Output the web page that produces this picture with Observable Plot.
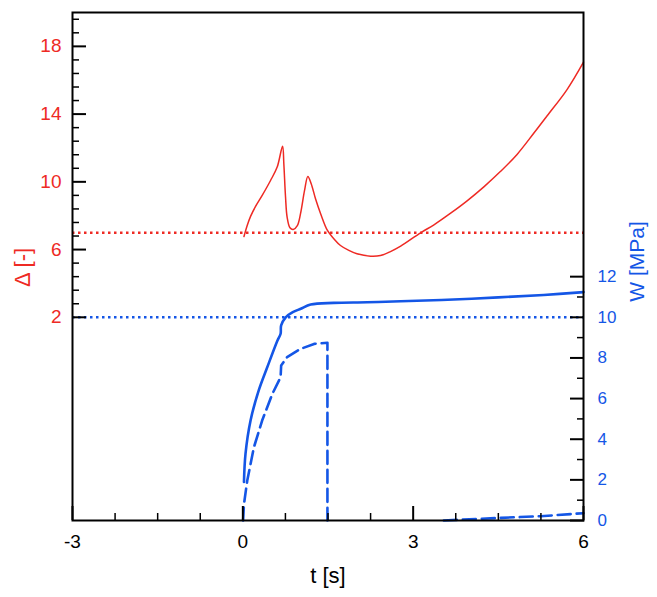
<!DOCTYPE html>
<html><head><meta charset="utf-8">
<script src="https://cdn.jsdelivr.net/npm/d3@7"></script>
<script src="https://cdn.jsdelivr.net/npm/@observablehq/plot@0.6"></script>
<style>body{margin:0;background:#fff}</style>
</head><body><div id="chart"></div>
<script>
// Δ(t) — left axis
const tDelta = [0.02,0.077,0.136,0.224,0.341,0.488,0.605,0.70,0.722,0.752,0.78,0.83,0.887,0.96,1.016,1.087,1.145,1.204,1.28,1.37,1.49,1.603,1.72,1.867,2.01,2.25,2.425,2.6,2.78,3.13,3.36,3.66,3.95,4.25,4.54,4.83,5.12,5.36,5.71,6.0];
const delta  = [6.77,7.42,7.96,8.55,9.20,10.08,10.87,12.1,11.07,9.1,7.92,7.29,7.19,7.42,8.12,9.49,10.32,9.89,9.0,8.12,7.13,6.64,6.24,5.95,5.75,5.61,5.65,5.88,6.2,6.99,7.45,8.15,8.88,9.72,10.62,11.62,12.85,13.9,15.45,17.07];
// W(t) solid — right axis [MPa]
const tWSolid = [0.02,0.047,0.136,0.28,0.43,0.61,0.665,0.675,0.755,0.88,1.02,1.195,1.6,2.19,2.78,3.5,4.5,5.3,6.0];
const wSolid  = [1.9,3.28,4.92,6.4,7.54,8.86,9.19,9.6,10.0,10.25,10.42,10.63,10.71,10.74,10.79,10.85,10.98,11.1,11.24];
// W(t) dashed — two pieces
const tWDash1 = [0.005,0.02,0.078,0.195,0.34,0.52,0.665,0.675,0.78,1.02,1.255,1.49,1.49];
const wDash1  = [0,0.8,1.97,3.6,4.92,6.23,7.05,7.63,8.04,8.45,8.69,8.75,0];
const tWDash2 = [3.54,4.54,5.24,6.0];
const wDash2  = [0,0.13,0.21,0.36];
// thresholds
const deltaThreshold = 7;
const wThreshold = 10;
// ticks
const xMajor = [-3,0,3,6];
const xMinor = d3.range(0,13).map(i => -3 + 0.75*i).filter((d,i) => i % 4 !== 0);
const deltaMajor = [2,6,10,14,18];
const deltaMinor = d3.range(0,23).map(i => 2 + 0.8*i).filter((d,i) => i % 5 !== 0);
const wMajor = [0,2,4,6,8,10,12];
const wMinor = [1,3,5,7,9,11];

// W domain [0,25] drawn on the Δ domain [-10,20]
const W2D = w => w * 1.2 - 10;
const D2W = d => (d + 10) / 1.2;

const RED = "#ee2a24", BLUE = "#1456e6";
const font = "'Liberation Sans', Arial, Helvetica, sans-serif";

const deltaRows = tDelta.map((t,i) => ({t, v: delta[i]}));
const solidRows = tWSolid.map((t,i) => ({t, w: wSolid[i]}));
const dash1Rows = tWDash1.map((t,i) => ({t, w: wDash1[i]}));
const dash2Rows = tWDash2.map((t,i) => ({t, w: wDash2[i]}));

const chart = Plot.plot({
  width: 657, height: 597,
  marginLeft: 72, marginRight: 74, marginTop: 12, marginBottom: 77,
  style: {fontFamily: font, background: "white", color: "black"},
  x: {domain: [-3, 6]},
  y: {domain: [-10, 20]},
  marks: [
    Plot.ruleY([deltaThreshold], {stroke: RED, strokeWidth: 2.5, strokeDasharray: "2.5,3.5"}),
    Plot.ruleY([W2D(wThreshold)], {stroke: BLUE, strokeWidth: 2.5, strokeDasharray: "2.5,3.5"}),
    Plot.line(deltaRows, {x: "t", y: "v", stroke: RED, strokeWidth: 1.5, curve: "catmull-rom"}),
    Plot.line(solidRows, {x: "t", y: d => W2D(d.w), stroke: BLUE, strokeWidth: 2.6, curve: "catmull-rom"}),
    Plot.line(dash1Rows, {x: "t", y: d => W2D(d.w), stroke: BLUE, strokeWidth: 2.6, strokeDasharray: "13,6"}),
    Plot.line(dash2Rows, {x: "t", y: d => W2D(d.w), stroke: BLUE, strokeWidth: 2.6, strokeDasharray: "13,6"}),
    // bottom axis
    Plot.axisX(xMajor, {tickSize: -14, strokeWidth: 2, fill: "none", label: null}),
    Plot.axisX(xMinor, {tickSize: -7, strokeWidth: 1.5, fill: "none", label: null}),
    Plot.axisX(xMajor, {tickSize: 0, tickPadding: 14, fontSize: 19, fill: "black", label: null, tickFormat: d => String(d)}),
    // left axis Δ
    Plot.axisY(deltaMajor, {anchor: "left", tickSize: -14, strokeWidth: 2, fill: "none", label: null}),
    Plot.axisY(deltaMinor, {anchor: "left", tickSize: -7, strokeWidth: 1.5, fill: "none", label: null}),
    Plot.axisY(deltaMajor, {anchor: "left", tickSize: 0, tickPadding: 11, fontSize: 19, fill: RED, label: null, tickFormat: d => String(d)}),
    // right axis W
    Plot.axisY(wMajor.map(W2D), {anchor: "right", tickSize: -14, strokeWidth: 2, fill: "none", label: null}),
    Plot.axisY(wMinor.map(W2D), {anchor: "right", tickSize: -7, strokeWidth: 1.5, fill: "none", label: null}),
    Plot.axisY(wMajor.map(W2D), {anchor: "right", tickSize: 0, tickPadding: 14, fontSize: 17, fill: BLUE, label: null,
      tickFormat: d => String(Math.round(D2W(d)))}),
    Plot.frame({stroke: "black", strokeWidth: 2}),
    // axis titles
    Plot.text(["Δ [-]"], {text: d => d, frameAnchor: "left", dx: -50, dy: 1, rotate: -90, textAnchor: "middle", lineAnchor: "middle", fill: RED, fontSize: 22}),
    Plot.text(["W [MPa]"], {text: d => d, frameAnchor: "right", dx: 54, dy: -5, rotate: -90, textAnchor: "middle", lineAnchor: "middle", fill: BLUE, fontSize: 21}),
    Plot.text(["t [s]"], {text: d => d, frameAnchor: "bottom", dy: 55, textAnchor: "middle", lineAnchor: "middle", fill: "black", fontSize: 22})
  ]
});
document.getElementById("chart").appendChild(chart);
</script>
</body></html>
